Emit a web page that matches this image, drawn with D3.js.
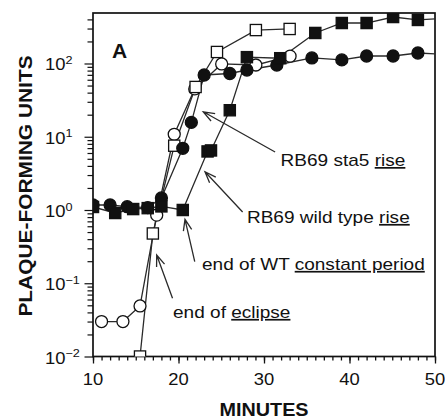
<!DOCTYPE html>
<html><head><meta charset="utf-8">
<script src="https://cdn.jsdelivr.net/npm/d3@7"></script>
<style>
html,body{margin:0;padding:0;background:#fff;}
svg{display:block;font-family:"Liberation Sans",Arial,Helvetica,sans-serif;}
</style></head>
<body><svg id="chart" width="445" height="419"></svg>
<script>
// ---- data (minutes, plaque-forming units) ----
const filledSquareMin = [10, 12.6, 14.7, 16.4, 18, 20.5, 23.4, 23.8, 26, 28, 31.9, 36, 39.1, 42, 45.1, 48, 52];
const filledSquarePfu = [1.1, 0.91, 1.03, 1.06, 1.12, 1.0, 6.3, 6.5, 23, 122, 118, 261, 357, 357, 431, 393, 419];
const filledCircleMin = [10, 12, 14, 16.4, 18, 20.5, 21.5, 23, 26, 28, 31.5, 35.6, 39.1, 42, 45.1, 48, 52];
const filledCirclePfu = [1.17, 1.17, 1.11, 1.08, 1.46, 6.95, 15.7, 69.7, 73, 81.5, 95.4, 119, 112, 126.5, 126.5, 139, 131];
const openCircleMin = [11, 13.5, 15.5, 17.45, 19.5, 21.9, 25.05, 29.05, 33.05];
const openCirclePfu = [0.030, 0.030, 0.049, 0.85, 10.8, 45, 98.5, 95.4, 126];
const openSquareMin = [15.5, 17.0, 19.5, 22.0, 24.5, 29.05, 33.0];
const openSquarePfu = [0.01, 0.478, 7.55, 47.8, 143.6, 286, 296];

const xTickValues = [10, 20, 30, 40, 50];
const yTickExponents = ["2", "1", "0", "\u22121", "\u22122"];
const yTickValues = [100, 10, 1, 0.1, 0.01];
const panelLabel = "A";
const xTitle = "MINUTES";
const yTitle = "PLAQUE-FORMING UNITS";

// annotations: text parts [string, underlined], text anchor, arrow tail, arrow tip (data units)
const annotations = [
  {parts: [["RB69 sta5 ", false], ["rise", true]], t: [31.94, 3.98], tail: [31.3, 6.2], tip: [22.9, 21.9]},
  {parts: [["RB69 wild type ", false], ["rise", true]], t: [28.0, 0.665], tail: [27.5, 0.94], tip: [23.1, 3.33]},
  {parts: [["end of WT ", false], ["constant period", true]], t: [22.75, 0.152], tail: [21.9, 0.197], tip: [20.76, 0.746]},
  {parts: [["end of ", false], ["eclipse", true]], t: [19.36, 0.0336], tail: [19.3, 0.0624], tip: [17.45, 0.243]}
];

// ---- layout ----
const L = 93, R = 435, T = 13, B = 356.5;
const svg = d3.select("#chart");
const x = d3.scaleLinear().domain([10, 50]).range([L, R]);
const y = d3.scaleLog().domain([0.01, 489]).range([B, T]);
const SX = 1.12;
const ink = "#111", lineCol = "#2a2a2a";

function addText(g, px, py, opts) {
  const t = g.append("text")
    .attr("transform", `translate(${px},${py}) scale(${opts.sx || SX},1)`)
    .attr("font-size", opts.size)
    .attr("font-weight", opts.weight || "normal")
    .attr("text-anchor", opts.anchor || "start")
    .attr("fill", ink);
  return t;
}

// clip
svg.append("clipPath").attr("id", "plotclip").append("rect")
  .attr("x", L).attr("y", T).attr("width", R - L).attr("height", B - T);

// x ticks
const xMinor = d3.range(10, 51, 1);
const gx = svg.append("g").attr("transform", `translate(0,${B})`);
gx.call(d3.axisBottom(x).tickValues(xMinor).tickSize(4).tickFormat(""));
gx.append("g").call(d3.axisBottom(x).tickValues(xTickValues).tickSize(7).tickFormat(""));
gx.selectAll(".domain").remove();
gx.selectAll("line").attr("stroke", ink).attr("stroke-width", 1.3);

// y ticks
const yMinor = [];
[0.01, 0.1, 1, 10, 100].forEach(d => { for (let k = 2; k <= 9; k++) { const v = d * k; if (v <= 489) yMinor.push(v); } });
const gy = svg.append("g").attr("transform", `translate(${L},0)`);
gy.call(d3.axisLeft(y).tickValues(yMinor).tickSize(5.5).tickFormat(""));
gy.append("g").call(d3.axisLeft(y).tickValues(yTickValues).tickSize(8.5).tickFormat(""));
gy.selectAll(".domain").remove();
gy.selectAll("line").attr("stroke", ink).attr("stroke-width", 1.2);

// frame
svg.append("rect").attr("x", L).attr("y", T).attr("width", R - L).attr("height", B - T)
  .attr("fill", "none").attr("stroke", ink).attr("stroke-width", 1.7);

// x tick labels
xTickValues.forEach(v => {
  addText(svg, x(v), 385, {size: 16, anchor: "middle", sx: 1.15}).text(v);
});
// y tick labels
yTickValues.forEach((v, i) => {
  const t = addText(svg, 45, y(v) + 7, {size: 16, sx: 1.15});
  t.append("tspan").text("10");
  t.append("tspan").attr("font-size", 11).attr("dy", -6.5).text(yTickExponents[i]);
});

// titles
addText(svg, (L + R) / 2, 416, {size: 18, weight: "bold", anchor: "middle", sx: 1.1}).text(xTitle);
svg.append("text")
  .attr("transform", `translate(32,186) rotate(-90) scale(1.1,1)`)
  .attr("font-size", 19).attr("font-weight", "bold").attr("text-anchor", "middle").attr("fill", ink)
  .text(yTitle);
addText(svg, 112, 58, {size: 21, weight: "bold", sx: 1.0}).text(panelLabel);

// series
const plot = svg.append("g").attr("clip-path", "url(#plotclip)");
const line = d3.line().x(d => x(d[0])).y(d => y(d[1]));
const zip = (a, b) => a.map((v, i) => [v, b[i]]);
const series = [
  {pts: zip(openCircleMin, openCirclePfu), shape: "circle", fill: "#fff"},
  {pts: zip(openSquareMin, openSquarePfu), shape: "square", fill: "#fff"},
  {pts: zip(filledCircleMin, filledCirclePfu), shape: "circle", fill: ink},
  {pts: zip(filledSquareMin, filledSquarePfu), shape: "square", fill: ink}
];
series.forEach(s => {
  plot.append("path").attr("d", line(s.pts)).attr("fill", "none")
    .attr("stroke", lineCol).attr("stroke-width", 1.3);
});
series.forEach(s => {
  const g = plot.append("g");
  if (s.shape === "circle") {
    g.selectAll("circle").data(s.pts).join("circle")
      .attr("cx", d => x(d[0])).attr("cy", d => y(d[1])).attr("r", 6)
      .attr("fill", s.fill).attr("stroke", ink).attr("stroke-width", 1.3);
  } else {
    const h = 5.6;
    g.selectAll("rect").data(s.pts).join("rect")
      .attr("x", d => x(d[0]) - h).attr("y", d => y(d[1]) - h)
      .attr("width", 2 * h).attr("height", 2 * h)
      .attr("fill", s.fill).attr("stroke", ink).attr("stroke-width", 1.3);
  }
});

// annotations
annotations.forEach(a => {
  const x0 = x(a.tail[0]), y0 = y(a.tail[1]), x1 = x(a.tip[0]), y1 = y(a.tip[1]);
  const ang = Math.atan2(y0 - y1, x0 - x1), len = 12, spread = 0.36;
  const p1 = [x1 + len * Math.cos(ang + spread), y1 + len * Math.sin(ang + spread)];
  const p2 = [x1 + len * Math.cos(ang - spread), y1 + len * Math.sin(ang - spread)];
  svg.append("path")
    .attr("d", `M${x0},${y0}L${x1},${y1}M${p1[0]},${p1[1]}L${x1},${y1}L${p2[0]},${p2[1]}`)
    .attr("fill", "none").attr("stroke", lineCol).attr("stroke-width", 1.3);
  const t = addText(svg, x(a.t[0]), y(a.t[1]), {size: 17});
  a.parts.forEach(p => {
    const ts = t.append("tspan").text(p[0]);
    if (p[1]) ts.attr("text-decoration", "underline");
  });
});
</script></body></html>
